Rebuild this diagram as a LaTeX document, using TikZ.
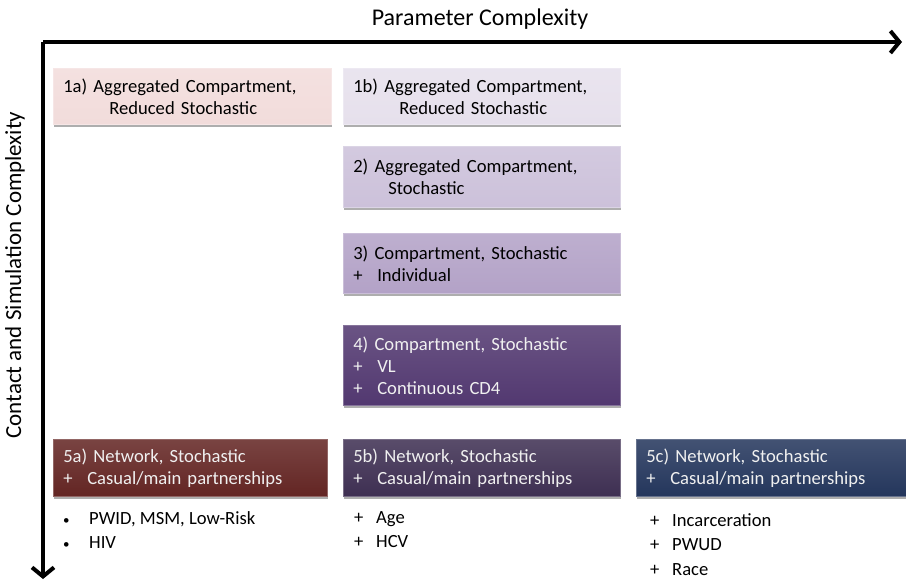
\documentclass[tikz,border=0pt]{standalone}
\usepackage{fontspec}
\setmainfont{Carlito}
\usetikzlibrary{arrows.meta,shadows}

\definecolor{rosebox}{RGB}{242,220,219}
\definecolor{lilacbox}{RGB}{230,224,236}
\definecolor{lavenderbox}{RGB}{204,193,218}
\definecolor{mauvebox}{RGB}{179,162,199}
\definecolor{plumbox}{RGB}{82,56,112}
\definecolor{maroonbox}{RGB}{99,37,35}
\definecolor{grapebox}{RGB}{62,47,82}
\definecolor{navybox}{RGB}{36,54,92}

\newcommand{\plusitem}[1]{\makebox[24pt][l]{+}#1}
\newcommand{\listplus}[1]{\makebox[22pt][l]{+}#1}
\newcommand{\listdot}[1]{\makebox[26pt][l]{\fontsize{13}{13}\selectfont\textbullet}#1}

\begin{document}
\begin{tikzpicture}[x=1pt, y=-1pt,
    axis/.style={line width=4pt, -{Straight Barb[length=9pt,width=22pt]}},
    axis label/.style={font=\fontsize{23}{26}\selectfont},
    model/.style={anchor=north west, inner xsep=10pt, inner ysep=0pt, align=left,
        top color=#1!86!white, bottom color=#1, draw=#1!70!white, line width=0.6pt,
        font=\fontsize{18.6}{22}\selectfont,
        drop shadow={shadow xshift=1pt, shadow yshift=-2.5pt, opacity=0.45, fill=black!70}},
    dark/.style={text=white!94!black},
    extras/.style={anchor=north west, inner sep=0pt, align=left,
        font=\fontsize{18.6}{24.5}\selectfont}]

    \useasboundingbox (0,0) rectangle (906,582);

    % axes
    \coordinate (origin) at (43,42);
    \coordinate (xend) at (902,42);
    \coordinate (yend) at (43,579);
    \draw[axis] (origin) -- (xend);
    \draw[axis] (origin) -- (yend);
    \node[axis label, font=\fontsize{24}{26}\selectfont] (xlabel) at (480,19) {Parameter Complexity};
    \node[axis label, rotate=90] (ylabel) at (15,275) {Contact and Simulation Complexity};

    % first row
    \node[model=rosebox, text width=258pt, minimum height=56pt] (m1a) at (53,68)
        {1a) Aggregated Compartment,\\ \hspace*{46pt}Reduced Stochastic};
    \node[model=lilacbox, text width=257pt, minimum height=56pt] (m1b) at (343,68)
        {1b) Aggregated Compartment,\\ \hspace*{46pt}Reduced Stochastic};

    % middle column
    \node[model=lavenderbox, text width=257pt, minimum height=61pt] (m2) at (343,146)
        {2) Aggregated Compartment,\\ \hspace*{35pt}Stochastic};
    \node[model=mauvebox, text width=257pt, minimum height=60pt] (m3) at (343,233)
        {3) Compartment, Stochastic\\ \plusitem{Individual}};
    \node[model=plumbox, dark, text width=257pt, minimum height=80pt] (m4) at (343,325)
        {4) Compartment, Stochastic\\ \plusitem{VL}\\ \plusitem{Continuous CD4}};

    % network models
    \node[model=maroonbox, dark, text width=254pt, minimum height=57pt] (m5a) at (53,439)
        {5a) Network, Stochastic\\ \plusitem{Casual/main partnerships}};
    \node[model=grapebox, dark, text width=257pt, minimum height=57pt] (m5b) at (343,439)
        {5b) Network, Stochastic\\ \plusitem{Casual/main partnerships}};
    \node[model=navybox, dark, text width=260pt, minimum height=57pt] (m5c) at (636,439)
        {5c) Network, Stochastic\\ \plusitem{Casual/main partnerships}};

    \node[extras] (x5a) at (63,511) {\listdot{PWID, MSM, Low-Risk}\\ \listdot{HIV}};
    \node[extras] (x5b) at (354,511) {\listplus{Age}\\ \listplus{HCV}};
    \node[extras] (x5c) at (650,513) {\listplus{Incarceration}\\ \listplus{PWUD}\\ \listplus{Race}};
\end{tikzpicture}
\end{document}
